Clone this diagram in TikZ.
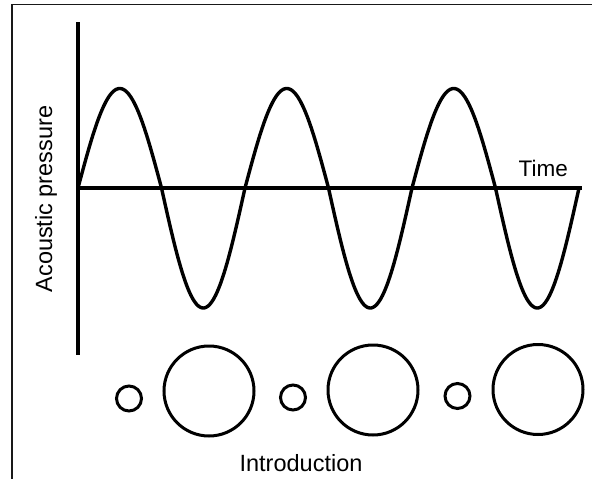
\documentclass[tikz,border=0pt]{standalone}
\usepackage{fontspec}
\setmainfont{Liberation Sans}
\begin{document}
\begin{tikzpicture}[x=1pt,y=-1pt,
  frameline/.style={line width=1.2pt, black!90},
  axisline/.style={line width=3.4pt},
  waveline/.style={line width=3.4pt, line join=round, line cap=round},
  bubble/.style={circle, draw, line width=3pt, inner sep=0pt, outer sep=0pt},
  small/.style={bubble, minimum size=25pt},
  big/.style={bubble, minimum size=90pt},
  lbl/.style={inner sep=0pt, font=\fontsize{23.5}{28}\selectfont}]
\useasboundingbox (0,0) rectangle (592,479);
% frame
\coordinate (fbl) at (12,479);
\coordinate (ftl) at (12,4.7);
\coordinate (ftr) at (592,4.7);
\draw[frameline] (fbl) -- (ftl) -- (ftr);
% axes
\coordinate (vtop) at (78,22);
\coordinate (vbot) at (78,355);
\coordinate (o) at (78,188);
\coordinate (hend) at (582,188);
\draw[axisline] (vtop) -- (vbot);
\draw[axisline] (o) -- (hend);
% wave
\draw[waveline] plot[domain=0:501, samples=401, variable=\t]
  ({78+\t},{188 - sin((\t/83.5)*180)*(sin((\t/83.5)*180)>0 ? 99.5 : 120)});
% labels
\node[lbl, anchor=base west, font=\fontsize{22.5}{27}\selectfont] (time) at (518.5,176) {Time};
\node[lbl, anchor=base] (intro) at (301,471) {Introduction};
\node[lbl, anchor=base, rotate=90] (ap) at (52,199) {Acoustic pressure};
% bubbles
\node[small] (s1) at (129,398.5) {};
\node[big] (b1) at (209,391) {};
\node[small] (s2) at (293,397.5) {};
\node[big] (b2) at (373,390) {};
\node[small] (s3) at (457.5,396) {};
\node[big] (b3) at (538,389.5) {};
\end{tikzpicture}
\end{document}
